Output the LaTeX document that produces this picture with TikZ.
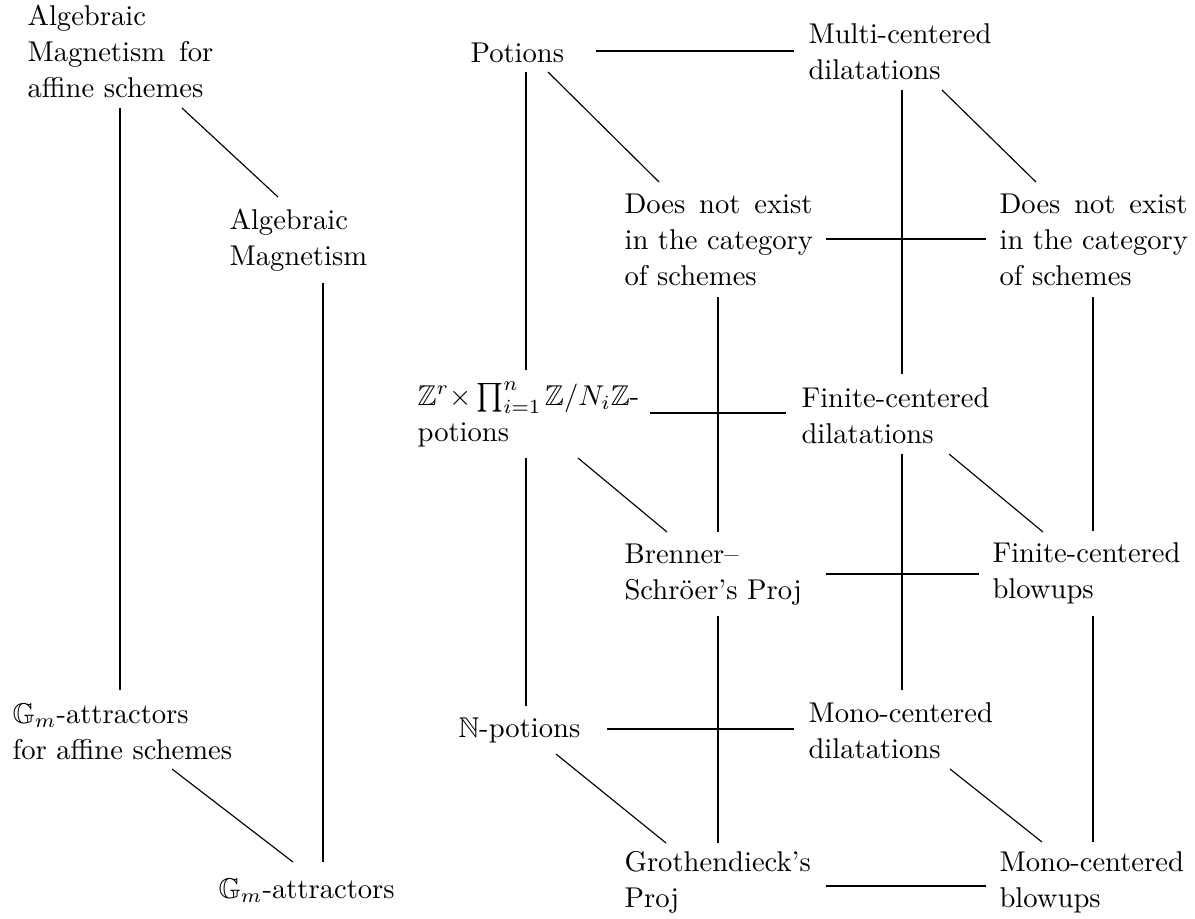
\documentclass[tikz,border=0pt]{standalone}
\usepackage{fontspec}
\usepackage{amssymb}
\begin{document}
\begin{tikzpicture}[x=0.3497pt,y=-0.3497pt,
  lbl/.style={anchor=base west,inner sep=0pt,text width=85pt,align=left,font=\fontsize{10}{12.7}\selectfont},
  conn/.style={line width=0.4pt}]
\useasboundingbox (0,0) rectangle (1195,918);
% left part
\node[lbl] (A1) at (27,25) {Algebraic\\\makebox[65pt]{Magnetism\hfill for}\\affine schemes};
\node[lbl] (A2) at (229,229) {Algebraic\\Magnetism};
\node[lbl] (A3) at (12,723) {$\mathbb{G}_m$-attractors\\for affine schemes};
\node[lbl] (A4) at (218,898) {$\mathbb{G}_m$-attractors};
% cube
\node[lbl] (P)   at (470,62)  {Potions};
\node[lbl] (MC)  at (808,43)  {Multi-centered\\dilatations};
\node[lbl] (DN1) at (624,213) {\makebox[65.7pt]{Does\hfill not\hfill exist}\\in the category\\of schemes};
\node[lbl] (DN2) at (999,213) {\makebox[65.7pt]{Does\hfill not\hfill exist}\\in the category\\of schemes};
\node[lbl] (Z)   at (417,405) {$\mathbb{Z}^r{\times}\prod_{i=1}^n\mkern-1mu\mathbb{Z}/N_i\mathbb{Z}$-\\potions};
\node[lbl] (FD)  at (801,407) {Finite-centered\\dilatations};
\node[lbl] (BS)  at (624,563) {Brenner--\\Schr\"oer's Proj};
\node[lbl] (FB)  at (992,562) {Finite-centered\\blowups};
\node[lbl] (NP)  at (458,737) {$\mathbb{N}$-potions};
\node[lbl] (MD)  at (808,722) {Mono-centered\\dilatations};
\node[lbl] (GP)  at (624,871.5) {Grothendieck's\\Proj};
\node[lbl] (MB)  at (999,871.5) {Mono-centered\\blowups};
% connectors left
\draw[conn] ([shift={(93,83)}]A1.base west) -- ([shift={(108,-33)}]A3.base west);
\draw[conn] ([shift={(155,83)}]A1.base west) -- ([shift={(49,-32)}]A2.base west);
\draw[conn] ([shift={(94,54)}]A2.base west) -- ([shift={(105,-36)}]A4.base west);
\draw[conn] ([shift={(160,46)}]A3.base west) -- ([shift={(75,-36)}]A4.base west);
% connectors cube
\draw[conn] ([shift={(126,-11)}]P.base west) -- ([shift={(-14,8)}]MC.base west);
\draw[conn] ([shift={(56,10)}]P.base west) -- ([shift={(109,-35)}]Z.base west);
\draw[conn] ([shift={(78,10)}]P.base west) -- ([shift={(35,-31)}]DN1.base west);
\draw[conn] ([shift={(94,47)}]MC.base west) -- ([shift={(101,-33)}]FD.base west);
\draw[conn] ([shift={(134,47)}]MC.base west) -- ([shift={(37,-31)}]DN2.base west);
\draw[conn] ([shift={(202,26)}]DN1.base west) -- ([shift={(-13,26)}]DN2.base west);
\draw[conn] ([shift={(94,84)}]DN1.base west) -- ([shift={(94,-31)}]BS.base west);
\draw[conn] ([shift={(94,84)}]DN2.base west) -- ([shift={(101,-31)}]FB.base west);
\draw[conn] ([shift={(233,8)}]Z.base west) -- ([shift={(-15,6)}]FD.base west);
\draw[conn] ([shift={(109,53)}]Z.base west) -- ([shift={(68,-31)}]NP.base west);
\draw[conn] ([shift={(161,53)}]Z.base west) -- ([shift={(43,-31)}]BS.base west);
\draw[conn] ([shift={(101,47)}]FD.base west) -- ([shift={(94,-32)}]MD.base west);
\draw[conn] ([shift={(148,47)}]FD.base west) -- ([shift={(51,-30)}]FB.base west);
\draw[conn] ([shift={(202,11)}]BS.base west) -- ([shift={(-13,12)}]FB.base west);
\draw[conn] ([shift={(94,53)}]BS.base west) -- ([shift={(94,-28.5)}]GP.base west);
\draw[conn] ([shift={(101,54)}]FB.base west) -- ([shift={(94,-29.5)}]MB.base west);
\draw[conn] ([shift={(149,-8)}]NP.base west) -- ([shift={(-14,7)}]MD.base west);
\draw[conn] ([shift={(98,17)}]NP.base west) -- ([shift={(42,-28.5)}]GP.base west);
\draw[conn] ([shift={(142,47)}]MD.base west) -- ([shift={(43,-29.5)}]MB.base west);
\draw[conn] ([shift={(202,14.5)}]GP.base west) -- ([shift={(-13,14.5)}]MB.base west);
\end{tikzpicture}
\end{document}
